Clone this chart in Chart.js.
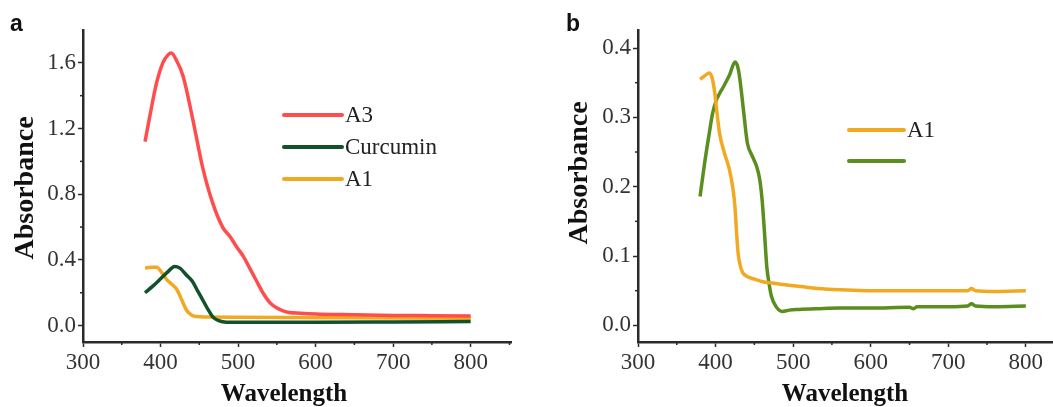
<!DOCTYPE html>
<html>
<head>
<meta charset="utf-8">
<script src="https://cdn.jsdelivr.net/npm/chart.js@4.4.0/dist/chart.umd.min.js"></script>
<style>
  html, body { margin: 0; padding: 0; background: #fff; overflow: hidden; }
  body { width: 1053px; height: 407px; position: relative; }
  .panel { position: absolute; top: 0; height: 407px; }
  .tag { position: absolute; top: 10px; font: bold 23px "Liberation Sans", Arial, sans-serif; color: #111; }
</style>
</head>
<body>
<div class="panel" style="left:0;width:527px"><canvas id="chartA"></canvas></div>
<div class="panel" style="left:527px;width:526px"><canvas id="chartB"></canvas></div>
<div class="tag" style="left:10px">a</div>
<div class="tag" style="left:566px">b</div>
<script>
// panel a data
const a3X = [380, 388, 395, 403, 410, 414, 420, 429, 441, 454, 467, 480, 490, 498, 507, 515, 524, 532, 541, 549, 558, 566, 580, 600, 650, 700, 750, 800];
const a3Y = [1.12, 1.32, 1.48, 1.6, 1.65, 1.66, 1.62, 1.52, 1.27, 0.97, 0.75, 0.6, 0.54, 0.48, 0.42, 0.35, 0.27, 0.2, 0.14, 0.11, 0.09, 0.08, 0.075, 0.07, 0.066, 0.062, 0.06, 0.058];
const curX = [380, 390, 399, 410, 418, 425, 433, 441, 448, 454, 461, 467, 475, 485, 500, 550, 600, 700, 800];
const curY = [0.2, 0.24, 0.28, 0.33, 0.36, 0.35, 0.31, 0.27, 0.21, 0.16, 0.1, 0.055, 0.03, 0.02, 0.02, 0.02, 0.02, 0.022, 0.025];
const a1aX = [380, 388, 395, 402, 408, 415, 421, 428, 434, 440, 446, 460, 500, 600, 700, 800];
const a1aY = [0.35, 0.355, 0.355, 0.32, 0.28, 0.25, 0.22, 0.15, 0.09, 0.065, 0.055, 0.052, 0.05, 0.048, 0.046, 0.045];

// panel b data
const a1bX = [380, 386, 392, 396, 399, 402, 405, 411, 418, 422, 425, 427, 429, 432, 435, 440, 444, 452, 461, 473, 486, 500, 517, 532, 547, 570, 600, 650, 700, 725, 730, 735, 760, 800];
const a1bY = [0.355, 0.36, 0.364, 0.355, 0.335, 0.305, 0.278, 0.25, 0.224, 0.2, 0.171, 0.135, 0.105, 0.085, 0.076, 0.071, 0.069, 0.066, 0.063, 0.061, 0.059, 0.057, 0.055, 0.053, 0.052, 0.051, 0.05, 0.05, 0.05, 0.05, 0.053, 0.05, 0.049, 0.05];
const grnX = [380, 386, 392, 396, 401, 405, 409, 418, 425, 428, 431, 436, 441, 447, 453, 457, 460, 463, 466, 469, 472, 478, 486, 495, 504, 530, 560, 600, 650, 655, 660, 700, 725, 730, 735, 760, 800];
const grnY = [0.186, 0.235, 0.278, 0.305, 0.325, 0.334, 0.342, 0.361, 0.38, 0.375, 0.358, 0.31, 0.263, 0.245, 0.229, 0.21, 0.181, 0.135, 0.085, 0.06, 0.042, 0.027, 0.02, 0.022, 0.023, 0.024, 0.025, 0.025, 0.026, 0.024, 0.027, 0.027, 0.028, 0.031, 0.028, 0.027, 0.028];

// tick labels
const xMajor = [300, 400, 500, 600, 700, 800];
const xMinor = [350, 450, 550, 650, 750, 850];
const yMajorA = [0, 0.4, 0.8, 1.2, 1.6];
const yMinorA = [0.2, 0.6, 1.0, 1.4];
const yMajorB = [0, 0.1, 0.2, 0.3, 0.4];
const yMinorB = [0.05, 0.15, 0.25, 0.35];

const serif = '"Liberation Serif", "Times New Roman", serif';
const ink = '#2a2a2a';

function pts(xs, ys) {
  return xs.map((x, i) => ({ x: x, y: ys[i] }));
}

// minor ticks, axis titles and legend, drawn from the chart's own scales
const extras = {
  id: 'extras',
  afterDraw(chart, args, opts) {
    const ctx = chart.ctx;
    const xs = chart.scales.x, ys = chart.scales.y;
    const area = chart.chartArea;
    ctx.save();
    ctx.strokeStyle = ink;
    ctx.lineWidth = 1.5;
    opts.xMinor.forEach(v => {
      const px = xs.getPixelForValue(v);
      if (px > area.right + 1) return;
      ctx.beginPath();
      ctx.moveTo(px, area.bottom);
      ctx.lineTo(px, area.bottom + 3);
      ctx.stroke();
    });
    opts.yMinor.forEach(v => {
      const py = ys.getPixelForValue(v);
      ctx.beginPath();
      ctx.moveTo(area.left, py);
      ctx.lineTo(area.left - 3, py);
      ctx.stroke();
    });

    // axis titles
    ctx.fillStyle = '#111';
    ctx.textAlign = 'center';
    ctx.textBaseline = 'middle';
    ctx.font = 'bold 25px ' + serif;
    ctx.fillText('Wavelength', opts.xTitle[0], opts.xTitle[1]);
    ctx.save();
    ctx.translate(opts.yTitle[0], opts.yTitle[1]);
    ctx.rotate(-Math.PI / 2);
    ctx.font = 'bold 28px ' + serif;
    ctx.fillText('Absorbance', 0, 0);
    ctx.restore();

    // legend
    const lg = opts.legend;
    ctx.font = '23px ' + serif;
    ctx.textAlign = 'left';
    ctx.fillStyle = '#222';
    chart.data.datasets.forEach((ds, i) => {
      const y = lg.y + i * lg.gap;
      ctx.strokeStyle = ds.borderColor;
      ctx.lineWidth = 4;
      ctx.lineCap = 'round';
      ctx.beginPath();
      ctx.moveTo(lg.x, y);
      ctx.lineTo(lg.x + lg.len, y);
      ctx.stroke();
      ctx.fillText(ds.label, lg.x + lg.len + 3, y + 1);
    });
    ctx.restore();
  }
};

function makeChart(id, datasets, cfg) {
  return new Chart(document.getElementById(id), {
    type: 'line',
    data: { datasets: datasets },
    options: {
      responsive: true,
      maintainAspectRatio: false,
      animation: false,
      layout: { padding: { top: 30, right: cfg.padRight, left: 0, bottom: 0 } },
      elements: {
        point: { radius: 0 },
        line: { borderWidth: 3.5, tension: 0.4, cubicInterpolationMode: 'monotone', fill: false }
      },
      scales: {
        x: {
          type: 'linear',
          min: 300,
          max: cfg.xMax,
          afterFit: s => { s.height = 65; },
          afterBuildTicks: s => { s.ticks = xMajor.map(v => ({ value: v })); },
          border: { display: true, color: ink, width: 2.5 },
          grid: { drawOnChartArea: false, drawTicks: true, tickLength: 5, color: ink, tickWidth: 1.5 },
          ticks: { color: '#333', font: { family: serif, size: 23 }, padding: 2, maxRotation: 0,
                   callback: v => String(v) }
        },
        y: {
          type: 'linear',
          min: cfg.yMin,
          max: cfg.yMax,
          afterFit: s => { s.width = cfg.yWidth; },
          afterBuildTicks: s => { s.ticks = cfg.yMajor.map(v => ({ value: v })); },
          border: { display: true, color: ink, width: 2.5 },
          grid: { drawOnChartArea: false, drawTicks: true, tickLength: 5, color: ink, tickWidth: 1.5 },
          ticks: { color: '#333', font: { family: serif, size: 23 }, padding: 2,
                   callback: v => v.toFixed(1) }
        }
      },
      plugins: {
        legend: { display: false },
        tooltip: { enabled: false },
        extras: { xMinor: xMinor, yMinor: cfg.yMinor, legend: cfg.legend,
                  xTitle: cfg.xTitle, yTitle: cfg.yTitle }
      }
    },
    plugins: [extras]
  });
}

makeChart('chartA', [
  { label: 'A3', data: pts(a3X, a3Y), borderColor: '#ff4d4d' },
  { label: 'Curcumin', data: pts(curX, curY), borderColor: '#11522a' },
  { label: 'A1', data: pts(a1aX, a1aY), borderColor: '#f2a922' }
], {
  xMax: 852, padRight: 16, yMin: -0.1, yMax: 1.8, yWidth: 83,
  yMajor: yMajorA, yMinor: yMinorA,
  xTitle: [284, 395], yTitle: [26, 188],
  legend: { x: 284, y: 115, gap: 32, len: 58 }
});

makeChart('chartB', [
  { label: 'A1', data: pts(a1bX, a1bY), borderColor: '#f2a922' },
  { label: '', data: pts(grnX, grnY), borderColor: '#5a8e1f' }
], {
  xMax: 835, padRight: 0, yMin: -0.024, yMax: 0.426, yWidth: 111,
  yMajor: yMajorB, yMinor: yMinorB,
  xTitle: [318, 395], yTitle: [53, 173],
  legend: { x: 322, y: 130, gap: 31, len: 55 }
});
</script>
</body>
</html>
